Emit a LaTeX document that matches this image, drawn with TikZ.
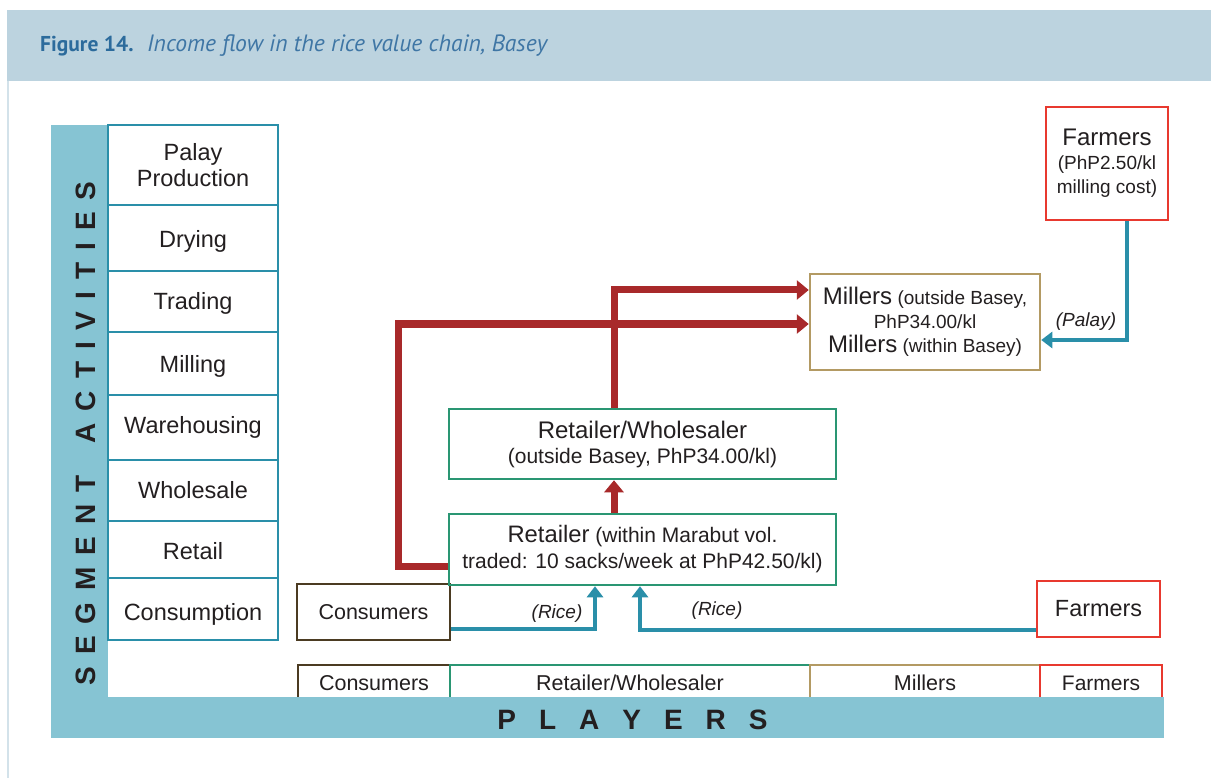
\documentclass[tikz,border=0pt]{standalone}
\usepackage{fontspec}
\setmainfont{Liberation Sans}
\newfontfamily\titlefont{PT Sans}
\usetikzlibrary{arrows.meta}
\definecolor{bandc}{HTML}{BCD3DF}
\definecolor{framec}{HTML}{D3E2EA}
\definecolor{sidec}{HTML}{86C4D3}
\definecolor{tealc}{HTML}{2A8FA9}
\definecolor{redc}{HTML}{A8292A}
\definecolor{greenc}{HTML}{2A9673}
\definecolor{tanc}{HTML}{B39A63}
\definecolor{boxred}{HTML}{E8392F}
\definecolor{brownc}{HTML}{4B3B22}
\definecolor{txt}{HTML}{231F20}
\definecolor{titleblue}{HTML}{2C6B9C}
\definecolor{titleital}{HTML}{3F76A5}
\newcommand\fsz[2]{\fontsize{#1}{#2}\selectfont}
\newcommand\sg{\hspace{12pt}}
\newcommand\pg{\hspace{23pt}}
\newcommand\lowr[2]{\raisebox{-#1}[\height][\depth]{#2}}
\begin{document}
\begin{tikzpicture}[x=1pt,y=-1pt,
  every node/.style={text=txt, inner sep=0pt, align=center},
  actbox/.style={draw=tealc, line width=2.5pt, minimum width=170pt, font=\fsz{23.5}{26}},
  playbox/.style={line width=2.5pt, minimum height=36pt, font=\fsz{21.5}{24}},
  chainbox/.style={line width=2.5pt},
  redflow/.style={draw=redc, line width=7pt, -{Triangle[width=19pt,length=12pt]}},
  blueflow/.style={draw=tealc, line width=4.5pt, -{Triangle[width=16pt,length=11pt]}},
  flowlabel/.style={font=\fsz{19}{22}\itshape}
]
\useasboundingbox (0,0) rectangle (1211,778);
\fill[white] (0,0) rectangle (1211,778);
% title band and frame
\fill[bandc] (7,10) rectangle (1211,81);
\fill[framec] (7,81) rectangle (9,778);
\node[anchor=base west, font=\titlefont\bfseries\fsz{21.5}{24}, text=titleblue] (fig) at (40,52) {Figure 14.};
\node[anchor=base west, font=\titlefont\itshape\fsz{23.6}{26}, text=titleital] (cap) at (147,52) {Income flow in the rice value chain, Basey};

% player row boxes (lower parts hidden by the band)
\node[playbox, draw=brownc, minimum width=152pt] (pcons) at (374,683) {Consumers};
\node[playbox, draw=greenc, minimum width=360pt] (prw) at (630,683) {Retailer/Wholesaler};
\node[playbox, draw=tanc, minimum width=230pt] (pmil) at (925,683) {Millers};
\node[playbox, draw=boxred, minimum width=122pt, font=\fsz{21}{24}] (pfar) at (1101,683) {Farmers};

% side bar and bottom band
\fill[sidec] (51,125) rectangle (108,738);
\fill[sidec] (51,697) rectangle (1164,738);
\node[rotate=90, anchor=base, font=\bfseries\fsz{28}{30}] (seg) at (95,433.5)
  {S\sg E\sg G\sg M\sg E\sg N\sg T\sg\hspace{7.8pt}\sg A\sg C\sg T\sg I\sg V\sg I\sg T\sg I\sg E\sg S};
\node[anchor=base, font=\bfseries\fsz{28}{30}] (play) at (632.5,729)
  {P\pg L\pg A\pg Y\pg E\pg R\pg S};

% segment activities
\node[actbox, minimum height=80pt] (a1) at (193,165) {Palay\\Production};
\node[actbox, minimum height=66pt] (a2) at (193,238) {\lowr{3pt}{Drying}};
\node[actbox, minimum height=61pt] (a3) at (193,301.5) {\lowr{2pt}{Trading}};
\node[actbox, minimum height=63pt] (a4) at (193,363.5) {\lowr{3pt}{Milling}};
\node[actbox, minimum height=65pt] (a5) at (193,427.5) {Warehousing};
\node[actbox, minimum height=61pt] (a6) at (193,490.5) {Wholesale};
\node[actbox, minimum height=57pt] (a7) at (193,549.5) {\lowr{2pt}{Retail}};
\node[actbox, minimum height=62pt] (a8) at (193,609) {\lowr{5pt}{Consumption}};

% chain boxes
\node[chainbox, draw=brownc, minimum width=153pt, minimum height=56pt, font=\fsz{21.5}{24}] (cons) at (373.5,612) {Consumers};
\node[chainbox, draw=boxred, minimum width=123pt, minimum height=56pt, font=\fsz{23.4}{26}] (flow) at (1098.5,609) {Farmers};
\node[chainbox, draw=greenc, minimum width=387pt, minimum height=71pt, font=\fsz{21}{26}] (ret) at (642.5,549.5)
  {{\fsz{23.8}{26}Retailer} (within Marabut vol.\\traded: 10 sacks/week at PhP42.50/kl)};
\node[chainbox, draw=greenc, minimum width=387pt, minimum height=70pt, font=\fsz{21}{25}] (rw) at (642.5,444)
  {{\fsz{24}{25}Retailer/Wholesaler}\\(outside Basey, PhP34.00/kl)};
\node[chainbox, draw=tanc, minimum width=230pt, minimum height=96pt, font=\fsz{19}{24}] (mil) at (925,322)
  {{\fsz{24}{24}Millers} (outside Basey,\\PhP34.00/kl\\{\fsz{24}{24}Millers} (within Basey)};
\node[chainbox, draw=boxred, minimum width=122pt, minimum height=113pt, font=\fsz{19}{24}] (ftop) at (1107,163.5)
  {{\fsz{24}{24}Farmers}\\(PhP2.50/kl\\milling cost)};

% connector bends
\coordinate (k1) at (614,290);
\coordinate (k2) at (398,324);
\coordinate (k3) at (1127,340);
\coordinate (k4) at (595,629);
\coordinate (k5) at (640,630);

% red flows
\draw[redflow] (ret.north -| k1) -- (rw.south -| k1);
\draw[redflow] (rw.north -| k1) |- (k1 -| mil.west);
\draw[redflow] ([yshift=-16.5pt]ret.west) -| (k2) -- (k2 -| mil.west);

% blue flows
\draw[blueflow] (ftop.south -| k3) |- (k3 -| mil.east);
\draw[blueflow] (k4 -| cons.east) -| (ret.south -| k4);
\draw[blueflow] (k5 -| flow.west) -| (ret.south -| k5);

\node[flowlabel] (l1) at (557,614) {(Rice)};
\node[flowlabel] (l2) at (717,611) {(Rice)};
\node[flowlabel] (l3) at (1086,322) {(Palay)};
\end{tikzpicture}
\end{document}
